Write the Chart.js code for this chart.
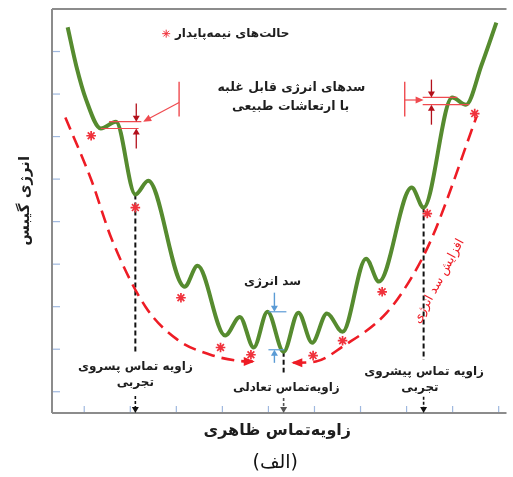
<!DOCTYPE html>
<html lang="fa">
<head>
<meta charset="utf-8">
<title>انرژی گیبس و زاویه‌تماس ظاهری</title>
<script src="https://cdn.jsdelivr.net/npm/chart.js@4.4.1/dist/chart.umd.min.js"></script>
<style>
  html, body { margin: 0; padding: 0; background: #fff; }
  #wrap { width: 513px; height: 477px; }
</style>
</head>
<body>
<div id="wrap"><canvas id="c" width="513" height="477"></canvas></div>
<script>
// Gibbs energy profile against apparent contact angle
const energyX = [-0.36, -0.17, 0.04, 0.36, 0.69, 1.11, 1.39, 2.18, 2.46, 3.06, 3.38, 3.68, 3.98,
                 4.33, 4.65, 4.95, 5.27, 5.61, 6.12, 6.40, 7.11, 7.37, 7.99, 8.29, 8.63, 8.95];
const energyY = [8.57, 7.65, 6.87, 6.19, 6.35, 4.64, 4.96, 2.47, 2.96, 1.32, 1.76, 1.04, 1.88,
                 0.94, 1.86, 1.15, 1.84, 1.41, 3.13, 2.59, 4.80, 4.33, 6.92, 6.75, 7.69, 8.68];

// envelope of the metastable minima: receding side and advancing side
const recedingX = [-0.41, 0.15, 0.60, 1.33, 2.03, 2.74, 3.32, 3.66];
const recedingY = [6.45, 4.99, 3.58, 2.00, 1.22, 0.87, 0.73, 0.71];
const advancingX = [4.54, 5.03, 5.61, 6.57, 7.17, 7.58, 8.52];
const advancingY = [0.68, 0.71, 1.06, 1.86, 2.80, 3.69, 6.47];

// metastable states
const metaX = [0.15, 1.11, 2.10, 2.96, 3.62, 4.97, 5.61, 6.47, 7.45, 8.48];
const metaY = [6.02, 4.33, 2.21, 1.04, 0.87, 0.85, 1.20, 2.35, 4.19, 6.54];

// axis tick positions
const xTicks = [0, 1, 2, 3, 4, 5, 6, 7, 8, 9];
const yTicks = [0, 1, 2, 3, 4, 5, 6, 7, 8];

// indices into the energy profile
const recedingMin = 5, equilibriumMin = 13, advancingMin = 21;
const leftBarrier = { low: 3, high: 4 };
const rightBarrier = { high: 22, low: 23 };
const centreBarrier = { high: 12, low: 13 };

const FONT = '"DejaVu Sans", sans-serif';
const TEXT = '#1e1e1e';
const RED = '#ee1c25';
const BRACKET = '#ef4a4f';
const DARKRED = '#b3101b';
const BLUE = '#5b9bd5';

const pts = (xs, ys) => xs.map((x, i) => ({ x, y: ys[i] }));

function label(ctx, text, x, y, o = {}) {
  ctx.save();
  ctx.translate(x, y);
  if (o.rot) ctx.rotate(o.rot * Math.PI / 180);
  ctx.font = `${o.bold === false ? '' : 'bold '}${o.size || 12}px ${FONT}`;
  ctx.fillStyle = o.color || TEXT;
  ctx.textAlign = o.align || 'center';
  ctx.textBaseline = 'middle';
  ctx.direction = 'rtl';
  ctx.fillText(text, 0, 0);
  ctx.restore();
}

function seg(ctx, x1, y1, x2, y2, color, lw, dash) {
  ctx.save();
  ctx.strokeStyle = color;
  ctx.lineWidth = lw;
  ctx.setLineDash(dash || []);
  ctx.beginPath();
  ctx.moveTo(x1, y1);
  ctx.lineTo(x2, y2);
  ctx.stroke();
  ctx.restore();
}

function head(ctx, tx, ty, fx, fy, color, len, half) {
  const a = Math.atan2(ty - fy, tx - fx);
  ctx.save();
  ctx.fillStyle = color;
  ctx.beginPath();
  ctx.moveTo(tx, ty);
  ctx.lineTo(tx - len * Math.cos(a) + half * Math.sin(a), ty - len * Math.sin(a) - half * Math.cos(a));
  ctx.lineTo(tx - len * Math.cos(a) - half * Math.sin(a), ty - len * Math.sin(a) + half * Math.cos(a));
  ctx.closePath();
  ctx.fill();
  ctx.restore();
}

function arrow(ctx, x1, y1, x2, y2, color, lw, len, half, dash) {
  const a = Math.atan2(y2 - y1, x2 - x1);
  seg(ctx, x1, y1, x2 - len * 0.7 * Math.cos(a), y2 - len * 0.7 * Math.sin(a), color, lw, dash);
  head(ctx, x2, y2, x1, y1, color, len, half);
}

// axes frame, inner tick marks and the contact angle guides (under the curves)
const framePlugin = {
  id: 'frame',
  beforeDatasetsDraw(chart) {
    const { ctx, chartArea: a, scales: { x, y } } = chart;
    const X = v => x.getPixelForValue(v), Y = v => y.getPixelForValue(v);

    seg(ctx, a.left, a.top, a.right, a.top, '#8c8c8c', 2);
    seg(ctx, a.left, a.top, a.left, a.bottom, '#8c8c8c', 2);
    seg(ctx, a.left, a.bottom, a.right, a.bottom, '#8c8c8c', 2);
    yTicks.forEach(v => seg(ctx, a.left + 1, Y(v), a.left + 8, Y(v), '#9fb8df', 1.2));
    xTicks.forEach(v => seg(ctx, X(v), a.bottom - 1, X(v), a.bottom - 7, '#9fb8df', 1.2));

    const guides = [
      { i: recedingMin, end: 0.94, stem: -0.1 },
      { i: equilibriumMin, end: 0.45, stem: -0.15 },
      { i: advancingMin, end: 0.75, stem: -0.12 }
    ];
    guides.forEach(g => {
      const gx = X(energyX[g.i]);
      seg(ctx, gx, Y(energyY[g.i]), gx, Y(g.end), '#111', 2, [5, 3]);
      arrow(ctx, gx, Y(g.stem), gx, a.bottom, g.i === equilibriumMin ? '#555' : '#111', 1.6, 6, 3.5, [3, 2]);
    });
  },
  afterDatasetsDraw(chart) {
    const { ctx, chartArea: a, scales: { x, y } } = chart;
    const X = v => x.getPixelForValue(v), Y = v => y.getPixelForValue(v);

    // arrowheads closing the two envelope branches
    const rl = recedingX.length - 1;
    head(ctx, X(recedingX[rl]) + 2, Y(recedingY[rl]), X(recedingX[rl - 1]), Y(recedingY[rl]), RED, 11, 4.5);
    head(ctx, X(advancingX[0]) - 2, Y(advancingY[0]), X(advancingX[1]), Y(advancingY[0]), RED, 11, 4.5);

    // left barrier marker
    const lh = Y(energyY[leftBarrier.high]), ll = Y(energyY[leftBarrier.low]);
    seg(ctx, X(0.54), lh, X(1.24), lh, BRACKET, 1.2);
    seg(ctx, X(0.36), ll, X(1.18), ll, BRACKET, 1.2);
    arrow(ctx, X(1.13), Y(6.78), X(1.13), lh, DARKRED, 1.3, 6, 3.5);
    arrow(ctx, X(1.13), Y(5.72), X(1.13), ll, DARKRED, 1.3, 6, 3.5);
    seg(ctx, X(2.06), Y(7.29), X(2.06), Y(6.47), BRACKET, 1.4);
    arrow(ctx, X(2.06), Y(6.80), X(1.28), lh, BRACKET, 1.2, 8, 3.5);

    // right barrier marker
    const rh = Y(energyY[rightBarrier.high]), rlw = Y(energyY[rightBarrier.low]);
    seg(ctx, X(7.35), rh, X(8.10), rh, BRACKET, 1.2);
    seg(ctx, X(7.35), rlw, X(8.36), rlw, BRACKET, 1.2);
    arrow(ctx, X(7.54), Y(7.34), X(7.54), rh, DARKRED, 1.3, 6, 3.5);
    arrow(ctx, X(7.54), Y(6.28), X(7.54), rlw, DARKRED, 1.3, 6, 3.5);
    seg(ctx, X(6.96), Y(7.29), X(6.96), Y(6.47), BRACKET, 1.4);
    arrow(ctx, X(6.96), Y(6.86), X(7.37), Y(6.86), BRACKET, 1.2, 8, 3.5);

    // energy barrier between neighbouring states
    const bh = Y(energyY[centreBarrier.high]), bl = Y(energyY[centreBarrier.low]);
    seg(ctx, X(4.00), bh, X(4.39), bh, BLUE, 1.2);
    seg(ctx, X(4.00), bl - 2, X(4.35), bl - 2, BLUE, 1.2);
    arrow(ctx, X(4.13), Y(2.33), X(4.13), bh, BLUE, 1.4, 6, 3.5);
    arrow(ctx, X(4.13), Y(0.68), X(4.13), bl - 2, BLUE, 1.4, 6, 3.5);

    // legend entry for the metastable states
    ctx.save();
    ctx.strokeStyle = '#f0323c';
    ctx.fillStyle = '#f0323c';
    Chart.helpers.drawPoint(ctx, { pointStyle: 'star', radius: 4, rotation: 0, borderWidth: 1.5 }, X(1.78), Y(8.42));
    ctx.restore();
    label(ctx, 'حالت‌های نیمه‌پایدار', X(1.97), Y(8.42), { size: 12, align: 'left' });

    label(ctx, 'سدهای انرژی قابل غلبه', X(4.50), Y(7.15), { size: 12.5 });
    label(ctx, 'با ارتعاشات طبیعی', X(4.48), Y(6.71), { size: 12.5 });
    label(ctx, 'سد انرژی', X(4.09), Y(2.59), { size: 12 });

    label(ctx, 'زاویه تماس پسروی', X(energyX[recedingMin]), Y(0.59), { size: 12 });
    label(ctx, 'تجربی', X(energyX[recedingMin]), Y(0.21), { size: 12 });
    label(ctx, 'زاویه‌تماس تعادلی', X(4.39), Y(0.09), { size: 12 });
    label(ctx, 'زاویه تماس پیشروی', X(7.38), Y(0.47), { size: 12 });
    label(ctx, 'تجربی', X(7.29), Y(0.09), { size: 12 });

    label(ctx, 'افزایش سد انرژی', X(7.70), Y(2.60), { size: 12.5, bold: false, color: RED, rot: -61.5 });

    // axis titles and panel caption
    label(ctx, 'زاویه‌تماس ظاهری', (a.left + a.right) / 2 - 2, a.bottom + 18, { size: 16 });
    label(ctx, 'انرژی گیبس', 25, Y(4.49), { size: 15, rot: -90 });
    label(ctx, '(الف)', (a.left + a.right) / 2 - 4, a.bottom + 50, { size: 19, bold: false, color: '#111' });
  }
};

new Chart(document.getElementById('c'), {
  type: 'line',
  data: {
    datasets: [
      {
        label: 'حالت‌های نیمه‌پایدار',
        data: pts(metaX, metaY),
        showLine: false,
        pointStyle: 'star',
        pointRadius: 4.8,
        pointBorderWidth: 1.7,
        borderColor: '#f0323c',
        backgroundColor: '#f0323c',
        order: 0
      },
      {
        label: 'انرژی گیبس',
        data: pts(energyX, energyY),
        borderColor: '#568b2f',
        borderWidth: 4,
        pointRadius: 0,
        cubicInterpolationMode: 'monotone',
        fill: false,
        order: 1
      },
      {
        label: 'پسروی',
        data: pts(recedingX, recedingY),
        borderColor: RED,
        borderWidth: 2.6,
        borderDash: [13, 7],
        pointRadius: 0,
        cubicInterpolationMode: 'monotone',
        fill: false,
        order: 2
      },
      {
        label: 'پیشروی',
        data: pts(advancingX, advancingY),
        borderColor: RED,
        borderWidth: 2.6,
        borderDash: [13, 7],
        pointRadius: 0,
        cubicInterpolationMode: 'monotone',
        fill: false,
        order: 2
      }
    ]
  },
  options: {
    responsive: false,
    animation: false,
    devicePixelRatio: 1,
    layout: { padding: { left: 52, top: 9, right: 0, bottom: 64 } },
    scales: {
      x: { type: 'linear', min: -0.7, max: 9.17, display: false },
      y: { type: 'linear', min: -0.5, max: 9, display: false }
    },
    plugins: { legend: { display: false }, tooltip: { enabled: false } }
  },
  plugins: [framePlugin]
});
</script>
</body>
</html>
